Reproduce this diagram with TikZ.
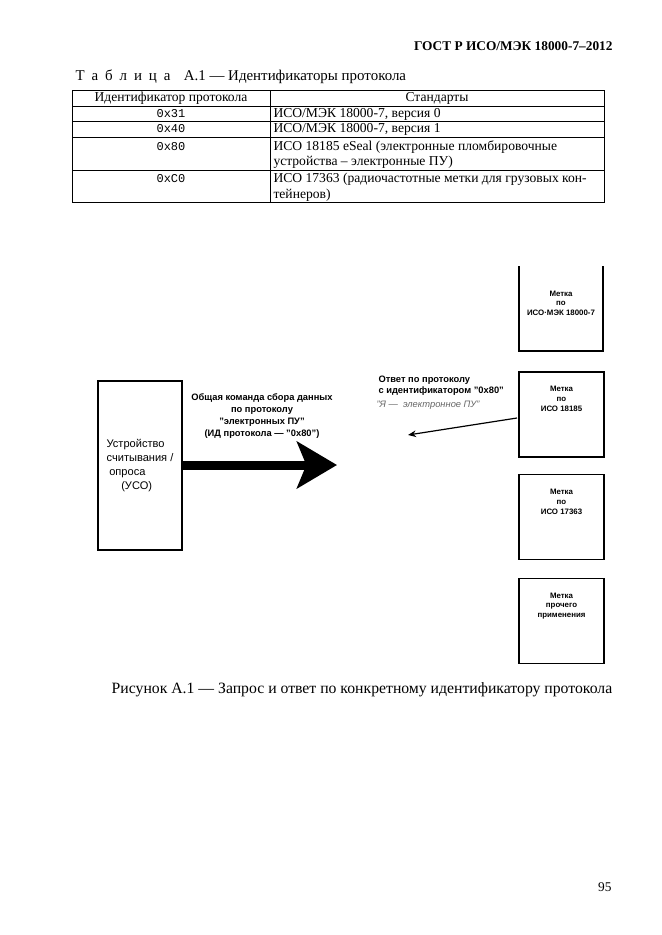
\documentclass[tikz,border=0pt]{standalone}
\usepackage{fontspec}
\setmainfont{Liberation Serif}
\setsansfont{Liberation Sans}
\setmonofont{Liberation Mono}
\usetikzlibrary{arrows.meta}

\tikzset{every picture/.style={line width=0.75pt}}
\tikzset{
  pagetext/.style={font=\fontsize{10}{12}\selectfont, inner sep=0pt},
  celltext/.style={font=\fontsize{10.2}{12}\selectfont, inner sep=0pt},
  idtext/.style={font=\ttfamily\fontsize{9}{11}\selectfont, inner sep=0pt},
  tagbox/.style={draw, line width=0.9pt, minimum width=63.75pt, minimum height=63.75pt, inner sep=0pt},
  tagtext/.style={font=\sffamily\bfseries\fontsize{5.9}{7.2}\selectfont, align=center, inner sep=0pt},
  cmdtext/.style={font=\sffamily\bfseries\fontsize{7}{8.8}\selectfont, inner sep=0pt},
  bigarrow/.style={line width=6.75pt, -{Stealth[length=30pt,width=35pt,inset=7pt]}},
}
\newcommand{\lsp}{\hspace{5.2pt}}

\begin{document}
\begin{tikzpicture}[x=0.75pt,y=0.75pt,yscale=-1]
\useasboundingbox (0,0) rectangle (661,935);

% page header
\node [pagetext, font=\bfseries\fontsize{10}{12}\selectfont, anchor=east] (gost) at (613,46) {ГОСТ Р ИСО/МЭК 18000-7–2012};

% table
\node [pagetext, font=\fontsize{11.2}{13}\selectfont, anchor=west] (tabtitle) at (75,77)
  {Т\lsp а\lsp б\lsp л\lsp и\lsp ц\lsp а\hspace{10pt}А.1 — Идентификаторы протокола};

\draw (72,90) rectangle (604,202);
\draw (270,90) -- (270,202);
\draw (72,106) -- (604,106);
\draw (72,121) -- (604,121);
\draw (72,137) -- (604,137);
\draw (72,170) -- (604,170);

\node [celltext] (hid) at (171,98) {Идентификатор протокола};
\node [celltext] (hstd) at (437,98) {Стандарты};

\node [idtext] (id31) at (171,114) {0x31};
\node [idtext] (id40) at (171,129) {0x40};
\node [idtext] (id80) at (171,147) {0x80};
\node [idtext] (idC0) at (171,179) {0xC0};

\node [celltext, anchor=west] (std31) at (273,114) {ИСО/МЭК 18000-7, версия 0};
\node [celltext, anchor=west] (std40) at (273,129) {ИСО/МЭК 18000-7, версия 1};
\node [celltext, anchor=west] (std80a) at (273,147) {ИСО 18185 eSeal (электронные пломбировочные};
\node [celltext, anchor=west] (std80b) at (273,162) {устройства – электронные ПУ)};
\node [celltext, anchor=west] (stdC0a) at (273,179) {ИСО 17363 (радиочастотные метки для грузовых кон-};
\node [celltext, anchor=west] (stdC0b) at (273,195) {тейнеров)};

% reader
\node [draw, line width=0.9pt, minimum width=63pt, minimum height=126.75pt, inner sep=0pt,
       font=\sffamily\fontsize{8.3}{10.3}\selectfont, align=left] (reader) at (140,465.5)
  {Устройство\\считывания /\\\hspace{2pt}опроса\\\hspace{11pt}(УСО)};

% tags
\draw [line width=0.9pt] (519,266) -- (519,351) -- (603,351) -- (603,266);
\coordinate (tagA) at (561,266);
\node [tagtext] (tagAlbl) at ([yshift=27.75pt]tagA) {Метка\\по\\ИСО·МЭК 18000-7};

\node [tagbox] (tagB) at (561.5,414.5) {};
\node [tagbox] (tagC) at (561.5,517) {};
\node [tagbox] (tagD) at (561.5,621) {};

\node [tagtext] (tagBlbl) at ([yshift=20.5pt]tagB.north) {Метка\\по\\ИСО 18185};
\node [tagtext] (tagClbl) at ([yshift=21pt]tagC.north) {Метка\\по\\ИСО 17363};
\node [tagtext] (tagDlbl) at ([yshift=21pt]tagD.north) {Метка\\прочего\\применения};

% command
\node [cmdtext, align=center] (cmd) at (262,416)
  {Общая команда сбора данных\\по протоколу\\''электронных ПУ''\\(ИД протокола — ''0x80'')};
\coordinate (cmdtip) at (337,465);
\draw [bigarrow] (reader.east |- cmdtip) -- (cmdtip);

% reply
\node [cmdtext, align=left, anchor=north west] (reply) at (378,375)
  {Ответ по протоколу\\с идентификатором ''0x80''};
\node [font=\sffamily\itshape\fontsize{7}{8}\selectfont, text=black!60, inner sep=0pt, anchor=west] (replyme)
  at (376,405) {''Я — \;электронное ПУ''};
\coordinate (replyend) at (408,435);
\draw [line width=0.9pt, -{Stealth[length=6pt,width=5pt]}] (517,418) -- (replyend);

% caption
\node [pagetext, font=\fontsize{11.8}{14}\selectfont] (caption) at (362,690)
  {Рисунок А.1 — Запрос и ответ по конкретному идентификатору протокола};

\node [pagetext, anchor=east] (pagenum) at (612,887) {95};

\end{tikzpicture}
\end{document}
